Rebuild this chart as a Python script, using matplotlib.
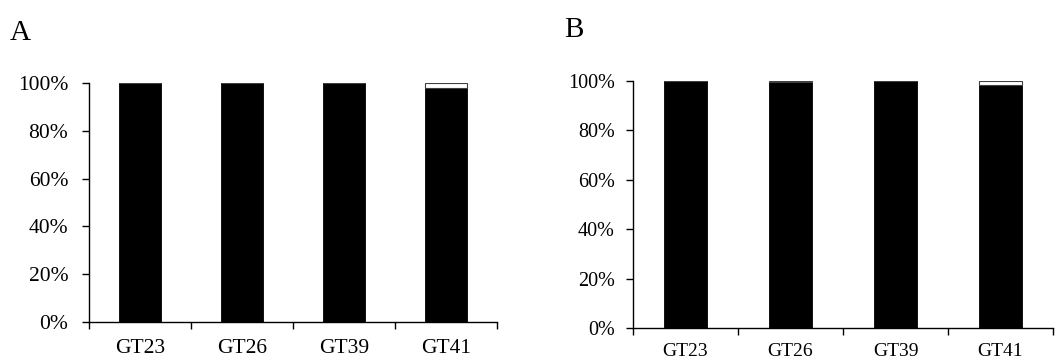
import matplotlib
matplotlib.use("Agg")
import matplotlib.pyplot as plt
from matplotlib.ticker import FixedLocator, PercentFormatter

plt.rcParams['font.family'] = ['Liberation Serif', 'DejaVu Serif']

categories = ["GT23", "GT26", "GT39", "GT41"]

# Panel A: fraction in each of two classes per genotype
a_major = [1.00, 1.00, 1.00, 0.98]
a_minor = [0.00, 0.00, 0.00, 0.02]

# Panel B
b_major = [1.00, 0.995, 1.00, 0.985]
b_minor = [0.00, 0.005, 0.00, 0.015]

yticks = [0.0, 0.2, 0.4, 0.6, 0.8, 1.0]

fig = plt.figure(figsize=(10.56, 3.6), dpi=100)


def panel(ax, major, minor, xsize, ysize, xpad, ypad, bar_width):
    x = list(range(len(categories)))
    ax.bar(x, major, width=bar_width, color="black", edgecolor="black",
           linewidth=0.6)
    ax.bar(x, minor, bottom=major, width=bar_width, color="white",
           edgecolor="#404040", linewidth=0.8)
    ax.set_xlim(-0.5, len(categories) - 0.5)
    ax.set_ylim(0, 1.0)
    ax.spines["top"].set_visible(False)
    ax.spines["right"].set_visible(False)
    for s in ("left", "bottom"):
        ax.spines[s].set_linewidth(1.0)
        ax.spines[s].set_color("black")
    ax.set_xticks(x)
    ax.set_xticklabels(categories, fontsize=xsize)
    ax.tick_params(axis="x", which="major", length=0, pad=xpad)
    ax.xaxis.set_minor_locator(FixedLocator(
        [i - 0.5 for i in range(len(categories) + 1)]))
    ax.tick_params(axis="x", which="minor", length=5, width=1.0,
                   direction="out")
    ax.set_yticks(yticks)
    ax.yaxis.set_major_formatter(PercentFormatter(1.0, decimals=0))
    ax.tick_params(axis="y", length=5, width=1.0, direction="out",
                   labelsize=ysize, pad=ypad)
    ax.set_facecolor("white")


ax_a = fig.add_axes([89 / 1056, 1 - 322 / 360, 408 / 1056, 239 / 360])
panel(ax_a, a_major, a_minor, 15.5, 15.5, 12, 10, 0.41)

ax_b = fig.add_axes([633 / 1056, 1 - 328 / 360, 420 / 1056, 247 / 360])
panel(ax_b, b_major, b_minor, 14, 14.5, 11, 8, 0.41)

fig.text(10 / 1056, 1 - 40 / 360, "A", fontsize=21, ha="left",
         va="baseline")
fig.text(564 / 1056, 1 - 37 / 360, "B", fontsize=21, ha="left",
         va="baseline")

fig.savefig("out.png", dpi=100, facecolor="white")
